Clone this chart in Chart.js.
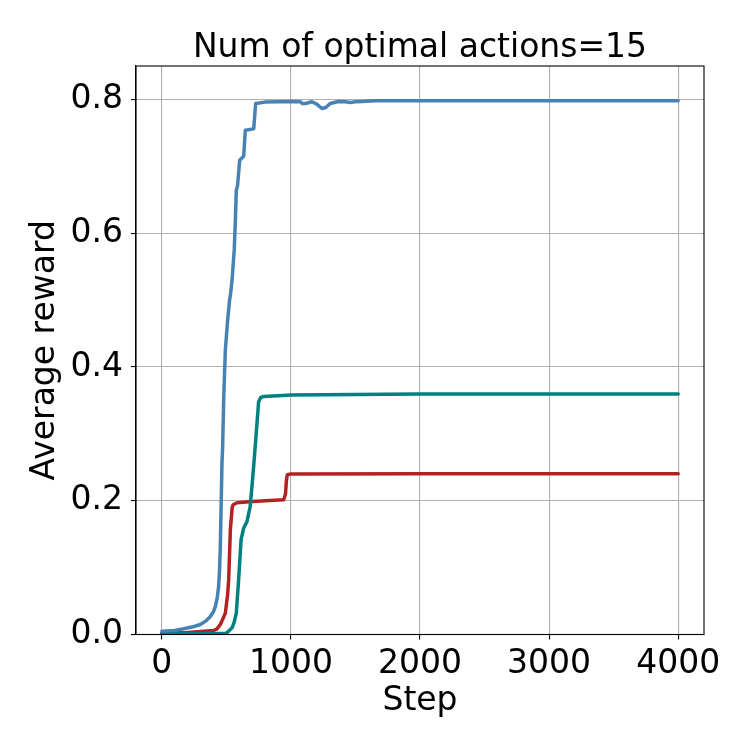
<!DOCTYPE html>
<html>
<head>
<meta charset="utf-8">
<script src="https://cdn.jsdelivr.net/npm/chart.js@4.4.0/dist/chart.umd.min.js"></script>
<style>
  html, body { margin: 0; padding: 0; background: #ffffff; }
  #wrap { width: 750px; height: 750px; }
</style>
</head>
<body>
<div id="wrap"><canvas id="c" width="750" height="750"></canvas></div>
<script>
const chartTitle = "Num of optimal actions=15";
const xLabel = "Step";
const yLabel = "Average reward";
const xTicks = [0, 1000, 2000, 3000, 4000];
const yTicks = [0.0, 0.2, 0.4, 0.6, 0.8];

const blueSteps  = [0, 100, 169, 250, 298, 340, 376, 400, 415, 430, 440, 447, 453, 466, 471, 479, 492, 510, 525, 533, 544, 561, 569, 577, 587, 603, 634, 647, 712, 727, 800, 1000, 1073, 1087, 1112, 1135, 1163, 1200, 1240, 1270, 1304, 1368, 1420, 1460, 1500, 1550, 1650, 2000, 3000, 4000];
const blueValues = [0.005, 0.006, 0.0085, 0.012, 0.015, 0.02, 0.027, 0.034, 0.042, 0.056, 0.072, 0.095, 0.13, 0.256, 0.28, 0.35, 0.425, 0.47, 0.5, 0.51, 0.53, 0.575, 0.615, 0.664, 0.672, 0.709, 0.715, 0.754, 0.756, 0.794, 0.796, 0.797, 0.7965, 0.794, 0.794, 0.795, 0.7965, 0.793, 0.7865, 0.788, 0.794, 0.797, 0.7965, 0.7955, 0.7965, 0.797, 0.798, 0.798, 0.798, 0.798];

const redSteps  = [0, 200, 400, 428, 453, 470, 492, 510, 518, 531, 545, 552, 583, 700, 944, 958, 965, 972, 1000, 2000, 4000];
const redValues = [0.002, 0.003, 0.006, 0.0085, 0.015, 0.022, 0.032, 0.06, 0.082, 0.157, 0.19, 0.194, 0.197, 0.199, 0.2015, 0.21, 0.23, 0.239, 0.24, 0.2402, 0.2403];

const tealSteps  = [0, 500, 517, 544, 560, 577, 595, 614, 634, 660, 684, 700, 717, 733, 750, 765, 790, 1000, 2000, 4000];
const tealValues = [0.001, 0.002, 0.005, 0.01, 0.018, 0.032, 0.082, 0.142, 0.159, 0.169, 0.191, 0.225, 0.265, 0.305, 0.348, 0.354, 0.356, 0.358, 0.3597, 0.3597];

function pts(xs, ys) { return xs.map((x, i) => ({ x: x, y: ys[i] })); }

const FONT = "'DejaVu Sans', sans-serif";

const framePlugin = {
  id: 'frame',
  afterDatasetsDraw(chart) {
    const a = chart.chartArea, ctx = chart.ctx;
    ctx.save();
    ctx.strokeStyle = '#000000';
    ctx.lineWidth = 1.1;
    ctx.strokeRect(a.left, a.top, a.right - a.left, a.bottom - a.top);
    ctx.restore();
  },
  afterDraw(chart) {
    const a = chart.chartArea, ctx = chart.ctx;
    ctx.save();
    ctx.fillStyle = '#000000';
    ctx.font = "33px " + FONT;
    ctx.textAlign = 'center';
    ctx.textBaseline = 'alphabetic';
    ctx.fillText(chartTitle, (a.left + a.right) / 2, 57);
    ctx.restore();
  }
};

const lineStyle = { borderWidth: 3.5, pointRadius: 0, fill: false, tension: 0, borderJoinStyle: 'round', borderCapStyle: 'round' };

new Chart(document.getElementById('c'), {
  type: 'line',
  data: {
    datasets: [
      Object.assign({ label: 'blue', data: pts(blueSteps, blueValues), borderColor: '#4682b4' }, lineStyle),
      Object.assign({ label: 'teal', data: pts(tealSteps, tealValues), borderColor: '#008080' }, lineStyle),
      Object.assign({ label: 'red',  data: pts(redSteps, redValues),  borderColor: '#b22222' }, lineStyle)
    ]
  },
  options: {
    responsive: false,
    animation: false,
    devicePixelRatio: 1,
    layout: { padding: { left: 0, right: 46, top: 66, bottom: 0 } },
    plugins: {
      legend: { display: false },
      tooltip: { enabled: false },
      title: { display: false }
    },
    scales: {
      x: {
        type: 'linear',
        min: -200, max: 4200,
        afterFit(s) { s.height = 115.5; },
        afterBuildTicks(s) { s.ticks = xTicks.map(v => ({ value: v })); },
        ticks: {
          color: '#000000',
          font: { family: FONT, size: 33 },
          padding: 5,
          maxRotation: 0,
          autoSkip: false,
          callback: v => String(v)
        },
        grid: { color: '#b0b0b0', lineWidth: 1.1, tickColor: '#000000', tickLength: 5, drawTicks: true },
        border: { display: true, color: '#000000', width: 1.1 },
        title: {
          display: true, text: xLabel, color: '#000000',
          font: { family: FONT, size: 33 },
          padding: { top: 0, bottom: 29 }
        }
      },
      y: {
        type: 'linear',
        min: 0, max: 0.85,
        afterFit(s) { s.width = 136; },
        afterBuildTicks(s) { s.ticks = yTicks.map(v => ({ value: v })); },
        ticks: {
          color: '#000000',
          font: { family: FONT, size: 33 },
          padding: 8,
          autoSkip: false,
          callback: v => Number(v).toFixed(1)
        },
        grid: { color: '#b0b0b0', lineWidth: 1.1, tickColor: '#000000', tickLength: 5, drawTicks: true },
        border: { display: true, color: '#000000', width: 1.1 },
        title: {
          display: true, text: yLabel, color: '#000000',
          font: { family: FONT, size: 33 },
          padding: { top: 26, bottom: 0 }
        }
      }
    }
  },
  plugins: [framePlugin]
});
</script>
</body>
</html>
